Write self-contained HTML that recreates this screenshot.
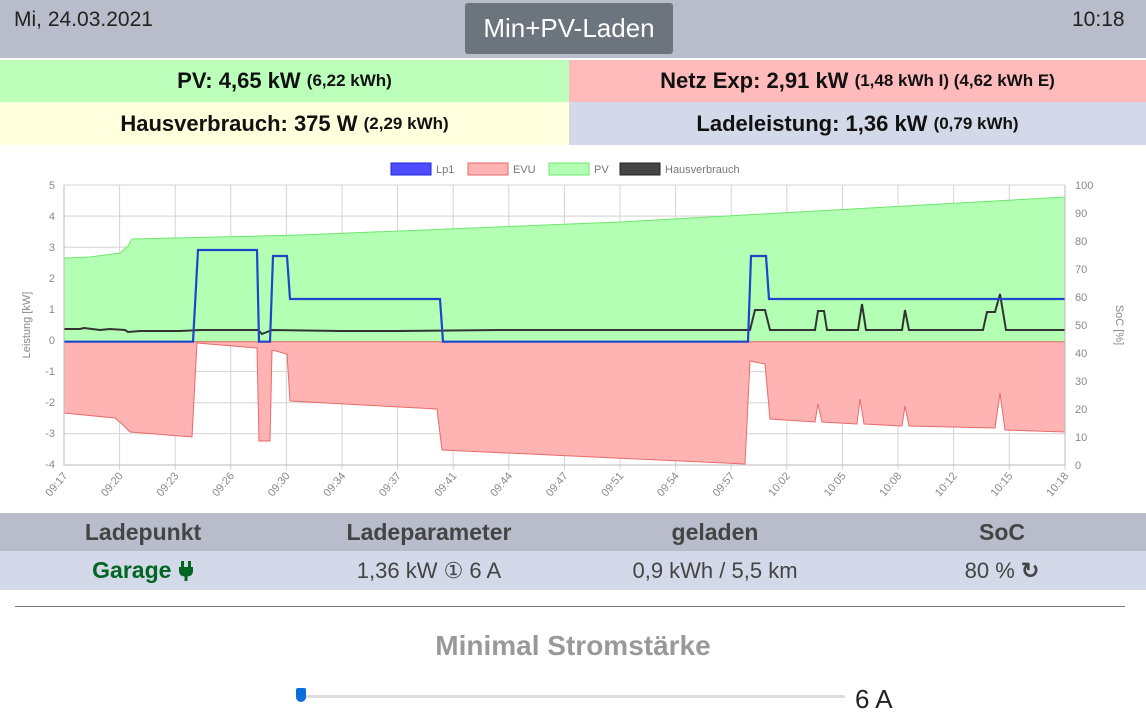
<!DOCTYPE html>
<html><head><meta charset="utf-8"><style>
body{margin:0;width:1146px;height:726px;overflow:hidden;background:#fff;font-family:"Liberation Sans",sans-serif;position:relative}
.a{position:absolute}
.c{display:flex;align-items:center;justify-content:center}
</style></head><body>
<div class="a" style="left:0;top:0;width:1146px;height:58px;background:#b9bdcb"></div>
<div class="a" style="left:14px;top:8px;font-size:21px;color:#222">Mi, 24.03.2021</div>
<div class="a" style="left:1072px;top:8px;font-size:21px;color:#222">10:18</div>
<div class="a c" style="left:465px;top:3px;width:208px;height:51px;background:#6c757d;color:#fff;font-size:26px;border-radius:3px">Min+PV-Laden</div>
<div class="a c" style="left:0;top:60px;width:569px;height:42px;background:#bbffbb;font-size:22px;font-weight:bold;color:#111">PV: 4,65 kW&nbsp;<span style="font-size:17px">(6,22 kWh)</span></div>
<div class="a c" style="left:569px;top:60px;width:577px;height:42px;background:#ffbbbb;font-size:22px;font-weight:bold;color:#111">Netz Exp: 2,91 kW&nbsp;<span style="font-size:17px">(1,48 kWh I) (4,62 kWh E)</span></div>
<div class="a c" style="left:0;top:102px;width:569px;height:43px;background:#ffffdd;font-size:22px;font-weight:bold;color:#111">Hausverbrauch: 375 W&nbsp;<span style="font-size:17px">(2,29 kWh)</span></div>
<div class="a c" style="left:569px;top:102px;width:577px;height:43px;background:#d3d9e8;font-size:22px;font-weight:bold;color:#111">Ladeleistung: 1,36 kW&nbsp;<span style="font-size:17px">(0,79 kWh)</span></div>

<svg class="a" style="left:0;top:145px" width="1146" height="368" viewBox="0 145 1146 368" font-family="Liberation Sans, sans-serif">
<g stroke="#d4d4d4" stroke-width="1">
<path d="M64 185H1065M64 216.1H1065M64 247.2H1065M64 278.3H1065M64 309.4H1065M64 340.5H1065M64 371.6H1065M64 402.7H1065M64 433.8H1065"/>
<path d="M119.6 185V470M175.2 185V470M230.8 185V470M286.4 185V470M342 185V470M397.6 185V470M453.2 185V470M508.8 185V470M564.4 185V470M620 185V470M675.6 185V470M731.2 185V470M786.8 185V470M842.4 185V470M898 185V470M953.6 185V470M1009.2 185V470M1065 185V470"/>
</g>
<path d="M64 341.7L64 258L90 257L120 253L128 246L132 239L300 235L620 222L1065 197L1065 341.7Z" fill="#b3ffb3" stroke="#6ee66e" stroke-width="1"/>
<path d="M64 341.7L64 413L115 418L122 424L130 432L192 437L197 343L257 348L259 441L270 441L272 350L287 354L290 401L437 409L442 450L745 464L750 361L765 364L770 419L815 422L818 404L822 422L857 424L860 399L864 424L902 426L905 406L909 426L995 428L1000 393L1005 430L1065 432L1065 341.7Z" fill="#ffb3b3" stroke="#e96a6a" stroke-width="1"/>
<path d="M64 329L80 329L84 328L100 330L110 329L125 330L128 332L140 331L180 331L200 330L258 330L262 334L272 330L340 331L400 331L500 330L600 330L700 330L750 330L755 310L765 310L770 330L815 330L818 311L824 311L827 330L858 330L862 304L866 330L902 330L905 310L909 330L983 330L987 312L995 312L1000 294L1006 330L1065 330" fill="none" stroke="#333" stroke-width="2"/>
<path d="M64 341.7L193 341.7L198 250L257 250L259 341.7L270 341.7L273 256L287 256L290 299L440 299L443 341.7L748 341.7L751 256L766 256L769 299L1065 299" fill="none" stroke="#2244cc" stroke-width="2.2"/>
<path d="M64 185V465H1065V185" fill="none" stroke="#bbb"/>
<g font-size="11" fill="#888" text-anchor="end">
<text x="55" y="189">5</text><text x="55" y="220">4</text><text x="55" y="251">3</text><text x="55" y="282">2</text><text x="55" y="313">1</text><text x="55" y="344">0</text><text x="55" y="375">-1</text><text x="55" y="406">-2</text><text x="55" y="437">-3</text><text x="55" y="468">-4</text>
</g>
<g font-size="11" fill="#888">
<text x="1075" y="189">100</text><text x="1075" y="217">90</text><text x="1075" y="245">80</text><text x="1075" y="273">70</text><text x="1075" y="301">60</text><text x="1075" y="329">50</text><text x="1075" y="357">40</text><text x="1075" y="385">30</text><text x="1075" y="413">20</text><text x="1075" y="441">10</text><text x="1075" y="469">0</text>
</g>
<text transform="translate(30 325) rotate(-90)" font-size="11" fill="#888" text-anchor="middle">Leistung [kW]</text>
<text transform="translate(1116 325) rotate(90)" font-size="11" fill="#888" text-anchor="middle">SoC [%]</text>
<g font-size="11" fill="#888" text-anchor="end">
<text transform="translate(68 476) rotate(-50)">09:17</text><text transform="translate(123.6 476) rotate(-50)">09:20</text><text transform="translate(179.2 476) rotate(-50)">09:23</text><text transform="translate(234.8 476) rotate(-50)">09:26</text><text transform="translate(290.4 476) rotate(-50)">09:30</text><text transform="translate(346 476) rotate(-50)">09:34</text><text transform="translate(401.6 476) rotate(-50)">09:37</text><text transform="translate(457.2 476) rotate(-50)">09:41</text><text transform="translate(512.8 476) rotate(-50)">09:44</text><text transform="translate(568.4 476) rotate(-50)">09:47</text><text transform="translate(624 476) rotate(-50)">09:51</text><text transform="translate(679.6 476) rotate(-50)">09:54</text><text transform="translate(735.2 476) rotate(-50)">09:57</text><text transform="translate(790.8 476) rotate(-50)">10:02</text><text transform="translate(846.4 476) rotate(-50)">10:05</text><text transform="translate(902 476) rotate(-50)">10:08</text><text transform="translate(957.6 476) rotate(-50)">10:12</text><text transform="translate(1013.2 476) rotate(-50)">10:15</text><text transform="translate(1069 476) rotate(-50)">10:18</text>
</g>
<g font-size="11" fill="#777">
<rect x="391" y="163" width="40" height="12" fill="#4d4dff" stroke="#2222dd"/><text x="436" y="173">Lp1</text>
<rect x="468" y="163" width="40" height="12" fill="#ffb3b3" stroke="#e96a6a"/><text x="513" y="173">EVU</text>
<rect x="549" y="163" width="40" height="12" fill="#b3ffb3" stroke="#6ee66e"/><text x="594" y="173">PV</text>
<rect x="620" y="163" width="40" height="12" fill="#444" stroke="#222"/><text x="665" y="173">Hausverbrauch</text>
</g>
</svg>

<div class="a" style="left:0;top:513px;width:1146px;height:38px;background:#b9bdcb"></div>
<div class="a" style="left:0;top:551px;width:1146px;height:39px;background:#d3d9e8"></div>
<div class="a c" style="left:0;top:513px;width:286px;height:38px;font-size:23px;font-weight:bold;color:#444">Ladepunkt</div>
<div class="a c" style="left:286px;top:513px;width:286px;height:38px;font-size:23px;font-weight:bold;color:#444">Ladeparameter</div>
<div class="a c" style="left:572px;top:513px;width:286px;height:38px;font-size:23px;font-weight:bold;color:#444">geladen</div>
<div class="a c" style="left:858px;top:513px;width:288px;height:38px;font-size:23px;font-weight:bold;color:#444">SoC</div>
<div class="a c" style="left:0;top:551px;width:286px;height:39px;font-size:23px;font-weight:bold;color:#006622">Garage&nbsp;<svg width="16" height="20" viewBox="0 0 16 20"><rect x="3" y="0" width="3" height="7" fill="#006622"/><rect x="10" y="0" width="3" height="7" fill="#006622"/><path d="M1 6H15V10Q15 15 9.5 15.5V20H6.5V15.5Q1 15 1 10Z" fill="#006622"/></svg></div>
<div class="a c" style="left:286px;top:551px;width:286px;height:39px;font-size:22px;color:#444">1,36 kW ① 6 A</div>
<div class="a c" style="left:572px;top:551px;width:286px;height:39px;font-size:22px;color:#444">0,9 kWh / 5,5 km</div>
<div class="a c" style="left:858px;top:551px;width:288px;height:39px;font-size:22px;color:#444">80 %&nbsp;<b>↻</b></div>
<div class="a" style="left:15px;top:606px;width:1110px;height:1px;background:#777"></div>
<div class="a c" style="left:0;top:626px;width:1146px;height:40px;font-size:28px;font-weight:bold;color:#999">Minimal Stromstärke</div>
<div class="a" style="left:300px;top:695px;width:545px;height:3px;background:#ddd"></div>
<div class="a" style="left:296px;top:688px;width:10px;height:14px;background:#0a6fd6;border-radius:2px 2px 5px 5px"></div>
<div class="a" style="left:855px;top:684px;font-size:26px;color:#222">6 A</div>
</body></html>
